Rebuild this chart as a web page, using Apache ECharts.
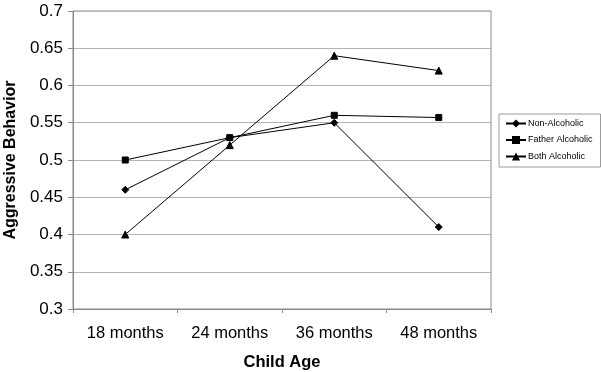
<!DOCTYPE html>
<html>
<head>
<meta charset="utf-8">
<script src="https://cdn.jsdelivr.net/npm/echarts@6/dist/echarts.min.js"></script>
<style>html,body{margin:0;padding:0;background:#fff;}#c{width:601px;height:372px;}</style>
</head>
<body>
<div id="c"></div>
<script>
var categories = ['18 months', '24 months', '36 months', '48 months'];
var nonAlcoholic = [0.46, 0.53, 0.55, 0.41];
var fatherAlcoholic = [0.50, 0.53, 0.56, 0.557];
var bothAlcoholic = [0.40, 0.52, 0.64, 0.62];
var seriesNames = ['Non-Alcoholic', 'Father Alcoholic', 'Both Alcoholic'];

var chart = echarts.init(document.getElementById('c'), null, {renderer: 'canvas'});
var font = 'Liberation Sans, Arial, sans-serif';
function mk(name, data, sym, size) {
  return {
    name: name, type: 'line', data: data, symbol: sym, symbolSize: size,
    showAllSymbol: true, animation: false,
    lineStyle: {color: '#000', width: 1},
    itemStyle: {color: '#000', borderColor: '#000'}
  };
}
chart.setOption({
  animation: false,
  textStyle: {fontFamily: font, color: '#000'},
  grid: {left: 73, right: 110, top: 11, bottom: 63, show: true, borderColor: '#8a8a8a', borderWidth: 1,
    containLabel: false, outerBoundsMode: 'none'},
  legend: {
    orient: 'vertical', left: 499, top: 114,
    width: 98, padding: [5, 8, 6, 6],
    itemWidth: 20, itemHeight: 10, itemGap: 7.5,
    borderColor: '#9a9a9a', borderWidth: 1, backgroundColor: '#fff',
    textStyle: {fontSize: 9, fontFamily: font, color: '#000', padding: [0, 0, 0, -3]},
    data: seriesNames
  },
  xAxis: {
    type: 'category', data: categories, boundaryGap: true,
    name: 'Child Age', nameLocation: 'middle', nameGap: 45,
    nameTextStyle: {fontSize: 16.5, fontWeight: 'bold', fontFamily: font, color: '#000'},
    axisLine: {lineStyle: {color: '#8a8a8a'}},
    axisTick: {show: true, length: 4, lineStyle: {color: '#8a8a8a'}},
    axisLabel: {fontSize: 16.5, margin: 16, color: '#000', fontFamily: font},
    splitLine: {show: false}
  },
  yAxis: {
    type: 'value', min: 0.3, max: 0.7, interval: 0.05,
    name: 'Aggressive Behavior', nameLocation: 'middle', nameGap: 49,
    nameTextStyle: {fontSize: 16, fontWeight: 'bold', fontFamily: font, color: '#000'},
    axisLine: {show: true, lineStyle: {color: '#8a8a8a'}},
    axisTick: {show: true, length: 5, lineStyle: {color: '#8a8a8a'}},
    axisLabel: {fontSize: 17, margin: 10, color: '#000', fontFamily: font,
      formatter: function (v) { return String(parseFloat(v.toFixed(2))); }},
    splitLine: {show: true, lineStyle: {color: '#b4b4b4', width: 1}}
  },
  series: [
    mk(seriesNames[0], nonAlcoholic, 'diamond', 7),
    mk(seriesNames[1], fatherAlcoholic, 'rect', 6),
    mk(seriesNames[2], bothAlcoholic, 'triangle', 7)
  ]
});
</script>
</body>
</html>
